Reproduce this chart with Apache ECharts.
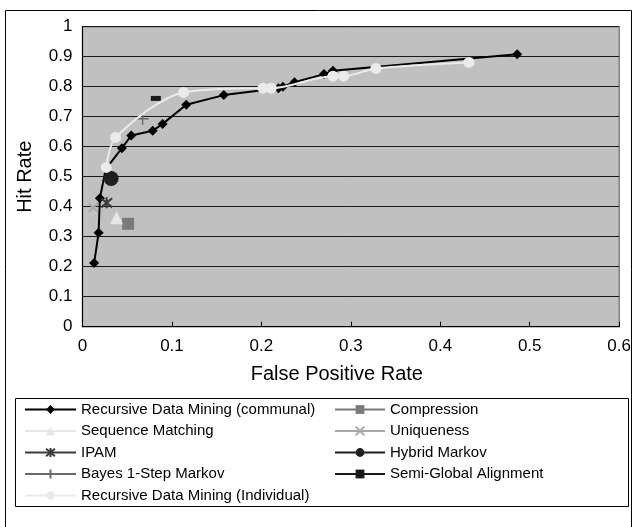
<!DOCTYPE html>
<html lang="en">
<head>
    <meta charset="UTF-8">
    <title>Hit Rate vs False Positive Rate</title>
    <script src="https://cdn.jsdelivr.net/npm/echarts@6/dist/echarts.min.js"></script>
    <style>
        html, body { margin: 0; padding: 0; background: #fff; }
        #container { width: 634px; height: 527px; }
    </style>
</head>
<body>
<div id="container"></div>
<script>
    // values: [false positive rate, hit rate]
    var communalFpr = [0.013, 0.018, 0.0194, 0.026, 0.044, 0.0545, 0.0785, 0.0896, 0.116, 0.158, 0.219, 0.224, 0.237, 0.270, 0.280, 0.486];
    var communalHit = [0.212, 0.313, 0.428, 0.525, 0.595, 0.637, 0.653, 0.676, 0.740, 0.772, 0.795, 0.800, 0.815, 0.842, 0.853, 0.908];
    var individualFpr = [0.0265, 0.037, 0.113, 0.2017, 0.211, 0.280, 0.292, 0.328, 0.432];
    var individualHit = [0.531, 0.631, 0.781, 0.795, 0.795, 0.835, 0.835, 0.861, 0.881];
    var compression = [0.051, 0.343];
    var sequenceMatching = [0.038, 0.363];
    var uniqueness = [0.012, 0.397];
    var ipam = [0.027, 0.413];
    var hybridMarkov = [0.032, 0.494];
    var bayesMarkov = [0.0672, 0.693];
    var semiGlobal = [0.082, 0.761];
    var xTicks = [0, 0.1, 0.2, 0.3, 0.4, 0.5, 0.6];
    var yTicks = [0, 0.1, 0.2, 0.3, 0.4, 0.5, 0.6, 0.7, 0.8, 0.9, 1];

    var font = 'Liberation Sans, Arial, sans-serif';

    function pairs(xs, ys) {
        var out = [];
        for (var i = 0; i < xs.length; i++) out.push([xs[i], ys[i]]);
        return out;
    }

    function single(name, pt, symbol, size, color, extra) {
        var s = {
            name: name,
            type: 'line',
            data: [pt],
            symbol: symbol,
            symbolSize: size,
            color: color,
            lineStyle: { color: color, width: 2 },
            itemStyle: { color: color },
            z: 3
        };
        if (extra) s.itemStyle = extra;
        return s;
    }

    function tickLabel(list) {
        return function (v) {
            for (var i = 0; i < list.length; i++) if (Math.abs(list[i] - v) < 1e-9) return String(list[i]);
            return '';
        };
    }

    var dom = document.getElementById('container');
    var myChart = echarts.init(dom);

    var legendText = { fontFamily: font, fontSize: 15, color: '#000' };

    var option = {
        animation: false,
        textStyle: { fontFamily: font },
        grid: {
            left: 82.5,
            right: 11,
            top: 26.7,
            bottom: 200.3,
            show: true,
            backgroundColor: '#c0c0c0',
            borderColor: '#808080',
            borderWidth: 1.5
        },
        legend: [
            {
                orient: 'vertical',
                left: 24,
                top: 402,
                padding: 0,
                itemWidth: 51,
                itemHeight: 11,
                itemGap: 6.5,
                textStyle: legendText,
                data: [
                    'Recursive Data Mining (communal)',
                    'Sequence Matching',
                    'IPAM',
                    'Bayes 1-Step Markov',
                    'Recursive Data Mining (Individual)'
                ]
            },
            {
                orient: 'vertical',
                left: 334,
                top: 402,
                padding: 0,
                itemWidth: 50,
                itemHeight: 11,
                itemGap: 6.5,
                textStyle: legendText,
                data: ['Compression', 'Uniqueness', 'Hybrid Markov', 'Semi-Global Alignment']
            }
        ],
        graphic: [
            {
                type: 'rect',
                shape: { x: 5.5, y: 10.5, width: 626, height: 520 },
                style: { fill: null, stroke: '#000', lineWidth: 1 },
                silent: true
            },
            {
                type: 'rect',
                shape: { x: 15.5, y: 398.5, width: 613, height: 108 },
                style: { fill: null, stroke: '#000', lineWidth: 1 },
                silent: true
            }
        ],
        xAxis: {
            type: 'value',
            min: 0,
            max: 0.6,
            interval: 0.1,
            name: 'False Positive Rate',
            nameLocation: 'middle',
            nameGap: 38,
            nameTextStyle: { fontFamily: font, fontSize: 20, color: '#000', padding: [0, 28, 0, 0] },
            axisLine: { lineStyle: { color: '#000', width: 1 } },
            axisTick: { show: true, inside: true, length: 5, lineStyle: { color: '#000' } },
            axisLabel: { fontFamily: font, fontSize: 17, color: '#000', margin: 11, formatter: tickLabel(xTicks) },
            splitLine: { show: false }
        },
        yAxis: {
            type: 'value',
            min: 0,
            max: 1,
            interval: 0.1,
            name: 'Hit Rate',
            nameLocation: 'middle',
            nameGap: 47,
            nameTextStyle: { fontFamily: font, fontSize: 20, color: '#000' },
            axisLine: { show: true, lineStyle: { color: '#000', width: 1 } },
            axisTick: { show: false },
            axisLabel: { fontFamily: font, fontSize: 17, color: '#000', margin: 10, formatter: tickLabel(yTicks) },
            splitLine: { show: true, lineStyle: { color: '#1a1a1a', width: 1 } }
        },
        series: [
            {
                name: 'Recursive Data Mining (communal)',
                type: 'line',
                data: pairs(communalFpr, communalHit),
                symbol: 'diamond',
                symbolSize: 10,
                color: '#000',
                lineStyle: { color: '#000', width: 2 },
                itemStyle: { color: '#000' },
                z: 2
            },
            single('Compression', compression, 'rect', 12, '#7a7a7a'),
            single('Sequence Matching', sequenceMatching, 'triangle', 13, '#e6e6e6'),
            single('Uniqueness', uniqueness, 'path://M0,0L10,10M10,0L0,10', 9, '#a8a8a8',
                { color: '#a8a8a8', borderColor: '#a8a8a8', borderWidth: 2 }),
            single('IPAM', ipam, 'path://M0,0L10,10M10,0L0,10M5,-1L5,11', 11, '#3a3a3a',
                { color: '#3a3a3a', borderColor: '#3a3a3a', borderWidth: 2 }),
            single('Hybrid Markov', hybridMarkov, 'circle', 15, '#1f1f1f'),
            single('Bayes 1-Step Markov', bayesMarkov, 'path://M5,0L5,10M0,5L10,5', 12, '#6a6a6a',
                { color: '#6a6a6a', borderColor: '#6a6a6a', borderWidth: 1.5 }),
            single('Semi-Global Alignment', semiGlobal, 'rect', [10, 5], '#1a1a1a'),
            {
                name: 'Recursive Data Mining (Individual)',
                type: 'line',
                data: pairs(individualFpr, individualHit),
                symbol: 'circle',
                symbolSize: 11,
                smooth: 0.3,
                color: '#ebebeb',
                lineStyle: { color: '#ebebeb', width: 2 },
                itemStyle: { color: '#ebebeb' },
                z: 4
            }
        ]
    };
    myChart.setOption(option, true);
</script>
</body>
</html>
